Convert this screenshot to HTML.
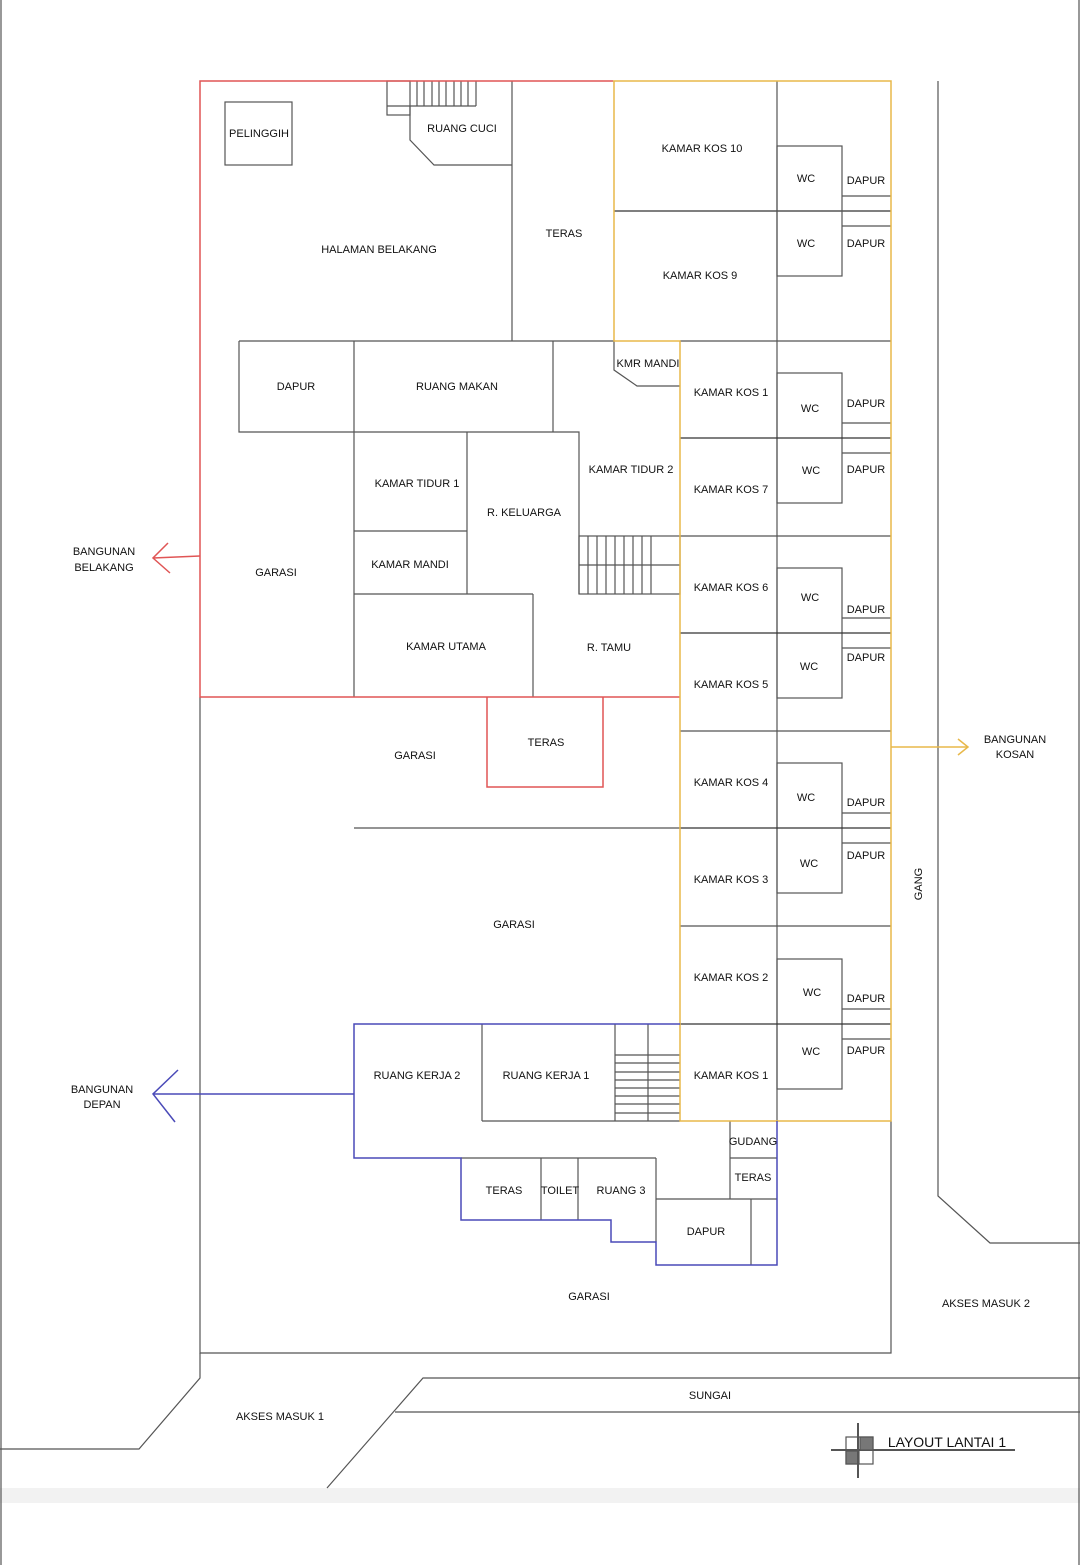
<!DOCTYPE html>
<html><head><meta charset="utf-8"><style>
body{margin:0;background:#fff}
svg{display:block}
text{font-family:"Liberation Sans",sans-serif;font-size:11px;fill:#111;text-anchor:middle}
</style></head><body>
<svg width="1080" height="1565" viewBox="0 0 1080 1565" xmlns="http://www.w3.org/2000/svg">
<rect x="0" y="1488" width="1080" height="15" fill="#f2f2f2"/>
<g stroke="#555" stroke-width="1.2" fill="none">
<line x1="1" y1="0" x2="1" y2="1565"/><line x1="1079" y1="0" x2="1079" y2="1565"/>
<rect x="225" y="102" width="67" height="63"/>
<rect x="387" y="81" width="23" height="34"/><line x1="387" y1="106" x2="410" y2="106"/>
<line x1="410" y1="106" x2="476" y2="106"/><line x1="476" y1="81" x2="476" y2="106"/>
<line x1="417" y1="81" x2="417" y2="106"/><line x1="424" y1="81" x2="424" y2="106"/><line x1="432" y1="81" x2="432" y2="106"/><line x1="439" y1="81" x2="439" y2="106"/><line x1="446" y1="81" x2="446" y2="106"/><line x1="454" y1="81" x2="454" y2="106"/><line x1="461" y1="81" x2="461" y2="106"/><line x1="468" y1="81" x2="468" y2="106"/>
<polyline points="410,106 410,140 434,165 512,165"/>
<line x1="512" y1="81" x2="512" y2="341"/>
<line x1="239" y1="341" x2="614" y2="341"/>
<polyline points="239,341 239,432 579,432 579,594"/>
<line x1="354" y1="341" x2="354" y2="697"/>
<line x1="553" y1="341" x2="553" y2="432"/>
<polyline points="614,341 614,370 637,386 680,386"/>
<line x1="467" y1="432" x2="467" y2="594"/>
<line x1="354" y1="531" x2="467" y2="531"/>
<line x1="354" y1="594" x2="533" y2="594"/>
<line x1="533" y1="594" x2="533" y2="697"/>
<rect x="579" y="536" width="101" height="58"/>
<line x1="579" y1="565" x2="680" y2="565"/>
<line x1="588" y1="536" x2="588" y2="594"/><line x1="597" y1="536" x2="597" y2="594"/><line x1="606" y1="536" x2="606" y2="594"/><line x1="615" y1="536" x2="615" y2="594"/><line x1="624" y1="536" x2="624" y2="594"/><line x1="633" y1="536" x2="633" y2="594"/><line x1="642" y1="536" x2="642" y2="594"/><line x1="651" y1="536" x2="651" y2="594"/>
<line x1="354" y1="828" x2="680" y2="828"/>
<polyline points="200,697 200,1353 891,1353 891,1121"/>
<polyline points="200,1353 200,1378 139,1449 0,1449"/>
<polyline points="1080,1378 423,1378 327,1488"/>
<line x1="395" y1="1412" x2="1080" y2="1412"/>
<polyline points="938,81 938,1196 990,1243 1080,1243"/>
<line x1="482" y1="1024" x2="482" y2="1121"/><line x1="482" y1="1121" x2="680" y2="1121"/>
<line x1="615" y1="1024" x2="615" y2="1121"/><line x1="648" y1="1024" x2="648" y2="1121"/>
<line x1="615" y1="1055" x2="680" y2="1055"/><line x1="615" y1="1063" x2="680" y2="1063"/><line x1="615" y1="1072" x2="680" y2="1072"/><line x1="615" y1="1080" x2="680" y2="1080"/><line x1="615" y1="1088" x2="680" y2="1088"/><line x1="615" y1="1096" x2="680" y2="1096"/><line x1="615" y1="1104" x2="680" y2="1104"/><line x1="615" y1="1113" x2="680" y2="1113"/>
<line x1="461" y1="1158" x2="656" y2="1158"/>
<line x1="541" y1="1158" x2="541" y2="1220"/><line x1="578" y1="1158" x2="578" y2="1220"/>
<line x1="656" y1="1158" x2="656" y2="1242"/>
<line x1="656" y1="1199" x2="777" y2="1199"/><line x1="751" y1="1199" x2="751" y2="1265"/>
<line x1="730" y1="1121" x2="730" y2="1199"/><line x1="730" y1="1158" x2="777" y2="1158"/>
<line x1="777" y1="81" x2="777" y2="1121"/>
<line x1="614" y1="211" x2="891" y2="211" stroke="#333"/>
<rect x="777" y="146" width="65" height="130"/>
<line x1="842" y1="196" x2="891" y2="196"/><line x1="842" y1="226" x2="891" y2="226"/>
<g id="pair">
<rect x="777" y="373" width="65" height="130"/>
<line x1="842" y1="423" x2="891" y2="423"/><line x1="842" y1="453" x2="891" y2="453"/>
</g>
<use href="#pair" y="195"/><use href="#pair" y="390"/><use href="#pair" y="586"/>
<line x1="680" y1="341" x2="891" y2="341"/>
<line x1="680" y1="438" x2="891" y2="438" stroke="#333"/>
<line x1="680" y1="536" x2="891" y2="536"/>
<line x1="680" y1="633" x2="891" y2="633" stroke="#333"/>
<line x1="680" y1="731" x2="891" y2="731"/>
<line x1="680" y1="828" x2="891" y2="828" stroke="#333"/>
<line x1="680" y1="926" x2="891" y2="926"/>
<line x1="680" y1="1024" x2="891" y2="1024" stroke="#333"/>
<line x1="831" y1="1450" x2="1015" y2="1450" stroke-width="2"/>
<rect x="846" y="1437" width="27" height="27"/>
<rect x="860" y="1437" width="13" height="13" fill="#777"/>
<rect x="846" y="1451" width="13" height="13" fill="#777"/>
<line x1="858" y1="1423" x2="858" y2="1478" stroke-width="2"/>
</g>
<g stroke="#e05555" stroke-width="1.5" fill="none">
<polyline points="613,81 200,81 200,697 680,697"/>
<polyline points="487,697 487,787 603,787 603,697"/>
<line x1="200" y1="556" x2="153" y2="558"/><polyline points="168,543 153,558 170,573"/>
</g>
<g stroke="#e8b84a" stroke-width="1.5" fill="none">
<polyline points="613,81 891,81 891,1121 680,1121 680,341 614,341 614,81"/>
<line x1="891" y1="747" x2="968" y2="747"/><polyline points="958,739 968,747 958,755"/>
</g>
<g stroke="#4a4ab8" stroke-width="1.5" fill="none">
<polyline points="680,1024 354,1024 354,1158 461,1158 461,1220 611,1220 611,1242 656,1242 656,1265 777,1265 777,1121"/>
<line x1="354" y1="1094" x2="153" y2="1094"/><polyline points="178,1070 153,1094 175,1122"/>
</g>
<g>
<text x="259" y="137">PELINGGIH</text>
<text x="462" y="132">RUANG CUCI</text>
<text x="379" y="253">HALAMAN BELAKANG</text>
<text x="564" y="237">TERAS</text>
<text x="702" y="152">KAMAR KOS 10</text>
<text x="700" y="279">KAMAR KOS 9</text>
<text x="296" y="390">DAPUR</text>
<text x="457" y="390">RUANG MAKAN</text>
<text x="648" y="367">KMR MANDI</text>
<text x="417" y="487">KAMAR TIDUR 1</text>
<text x="631" y="473">KAMAR TIDUR 2</text>
<text x="524" y="516">R. KELUARGA</text>
<text x="410" y="568">KAMAR MANDI</text>
<text x="276" y="576">GARASI</text>
<text x="446" y="650">KAMAR UTAMA</text>
<text x="609" y="651">R. TAMU</text>
<text x="546" y="746">TERAS</text>
<text x="415" y="759">GARASI</text>
<text x="514" y="928">GARASI</text>
<text x="104" y="555">BANGUNAN</text><text x="104" y="571">BELAKANG</text>
<text x="102" y="1093">BANGUNAN</text><text x="102" y="1108">DEPAN</text>
<text x="1015" y="743">BANGUNAN</text><text x="1015" y="758">KOSAN</text>
<text x="731" y="396">KAMAR KOS 1</text>
<text x="731" y="493">KAMAR KOS 7</text>
<text x="731" y="591">KAMAR KOS 6</text>
<text x="731" y="688">KAMAR KOS 5</text>
<text x="731" y="786">KAMAR KOS 4</text>
<text x="731" y="883">KAMAR KOS 3</text>
<text x="731" y="981">KAMAR KOS 2</text>
<text x="731" y="1079">KAMAR KOS 1</text>
<text x="806" y="182">WC</text><text x="806" y="247">WC</text>
<text x="866" y="184">DAPUR</text><text x="866" y="247">DAPUR</text>
<text x="810" y="412">WC</text><text x="811" y="474">WC</text>
<text x="866" y="407">DAPUR</text><text x="866" y="473">DAPUR</text>
<text x="810" y="601">WC</text><text x="809" y="670">WC</text>
<text x="866" y="613">DAPUR</text><text x="866" y="661">DAPUR</text>
<text x="806" y="801">WC</text><text x="809" y="867">WC</text>
<text x="866" y="806">DAPUR</text><text x="866" y="859">DAPUR</text>
<text x="812" y="996">WC</text><text x="811" y="1055">WC</text>
<text x="866" y="1002">DAPUR</text><text x="866" y="1054">DAPUR</text>
<text x="417" y="1079">RUANG KERJA 2</text>
<text x="546" y="1079">RUANG KERJA 1</text>
<text x="753" y="1145">GUDANG</text>
<text x="753" y="1181">TERAS</text>
<text x="504" y="1194">TERAS</text>
<text x="560" y="1194">TOILET</text>
<text x="621" y="1194">RUANG 3</text>
<text x="706" y="1235">DAPUR</text>
<text x="589" y="1300">GARASI</text>
<text x="986" y="1307">AKSES MASUK 2</text>
<text x="280" y="1420">AKSES MASUK 1</text>
<text x="710" y="1399">SUNGAI</text>
<text x="922" y="884" transform="rotate(-90 922 884)">GANG</text>
<text x="947" y="1447" style="font-size:14px">LAYOUT LANTAI 1</text>
</g>
</svg>
</body></html>
